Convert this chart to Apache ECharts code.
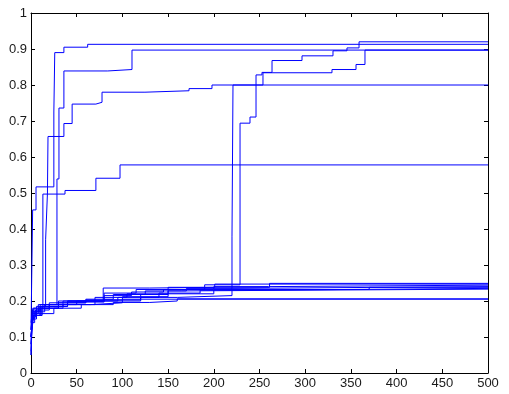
<!DOCTYPE html>
<html>
<head>
<meta charset="utf-8">
<script src="https://cdn.jsdelivr.net/npm/echarts@6/dist/echarts.min.js"></script>
<style>
  html, body { margin: 0; padding: 0; background: #fff; }
  #chart { width: 509px; height: 394px; }
</style>
</head>
<body>
<div id="chart"></div>
<script>
// tick labels
const xTicks = [0, 50, 100, 150, 200, 250, 300, 350, 400, 450, 500];
const yTicks = [0, 0.1, 0.2, 0.3, 0.4, 0.5, 0.6, 0.7, 0.8, 0.9, 1];

// each run: [iteration, best value] - value holds until the next point
const runA = [[0,0.12],[1.8,0.453],[5.5,0.517],[25,0.725],[26,0.89],[36,0.905],[62,0.913],[500,0.913]];
const runB = [[0,0.1],[2,0.17],[8,0.19],[28.4,0.539],[30.6,0.736],[36,0.839],[84,0.843],[110.5,0.897],[500,0.897]];
const runC = [[0,0.08],[2,0.16],[6,0.185],[16,0.37],[18,0.5],[18.6,0.657],[36,0.693],[45,0.747],[71,0.752],[77.7,0.78],[124.7,0.784],[172.9,0.79],[198,0.8],[500,0.8]];
const runG = [[0,0.14],[2,0.18],[13,0.497],[37.2,0.507],[71,0.541],[97.4,0.578],[500,0.578]];
const runD = [[0,0.05],[1,0.12],[3,0.16],[10,0.18],[30,0.19],[70,0.2],[120,0.21],[160,0.215],[219.9,0.378],[221,0.8],[253.8,0.834],[329.3,0.843],[355.6,0.857],[365.4,0.897],[500,0.897]];
const runE = [[0,0.1],[2,0.16],[10,0.185],[35,0.2],[80,0.222],[115,0.232],[150,0.238],[190,0.245],[228.7,0.694],[239.6,0.711],[246.2,0.828],[252.7,0.835],[263.7,0.868],[296.5,0.881],[330.4,0.895],[345.7,0.903],[358.9,0.92],[500,0.92]];
const run1 = [[0,0.05],[1,0.13],[3,0.16],[12,0.18],[35,0.19],[65,0.195],[100,0.205],[500,0.205]];
const run2 = [[0,0.1],[2,0.15],[6,0.165],[25,0.18],[55,0.19],[90,0.196],[130,0.2],[160,0.206],[500,0.206]];
const run3 = [[0,0.12],[2,0.17],[10,0.185],[40,0.197],[80,0.203],[120,0.218],[150,0.228],[165,0.233],[500,0.233]];
const run4 = [[0,0.08],[1,0.155],[5,0.175],[20,0.19],[50,0.2],[95,0.21],[140,0.222],[185,0.23],[240,0.235],[500,0.235]];
const run5 = [[0,0.1],[2,0.165],[8,0.18],[30,0.195],[60,0.203],[100,0.212],[150,0.22],[200,0.232],[370,0.238],[500,0.238]];
const run6 = [[0,0.06],[1,0.14],[4,0.17],[15,0.19],[40,0.2],[80,0.215],[110,0.225],[145,0.232],[200,0.24],[260,0.244],[500,0.244]];
const run7 = [[0,0.12],[2,0.175],[10,0.19],[30,0.2],[79,0.236],[130,0.238],[201,0.247],[500,0.247]];
const run8 = [[0,0.1],[2,0.16],[12,0.185],[40,0.2],[70,0.21],[105,0.22],[150,0.232],[190,0.238],[261,0.249],[500,0.249]];
const run9 = [[0,0.15],[3,0.18],[20,0.195],[60,0.205],[90,0.218],[125,0.228],[170,0.235],[220,0.24],[500,0.24]];

const runs = [run1, run2, run3, run4, run5, run6, run7, run8, run9, runD, runE, runG, runC, runB, runA];

const chart = echarts.init(document.getElementById('chart'));

const font = { fontFamily: 'Liberation Sans', fontSize: 13, color: '#1a1a1a' };
const axisLine = { show: true, onZero: false, lineStyle: { color: '#000', width: 1 } };
const tick = { show: true, inside: true, length: 4, lineStyle: { color: '#000' } };

chart.setOption({
  animation: false,
  grid: { left: 31, right: 21, top: 13, bottom: 21 },
  xAxis: [
    {
      type: 'value', min: 0, max: 500, interval: 50,
      axisLine: axisLine, axisTick: tick, splitLine: { show: false },
      axisLabel: Object.assign({ margin: 4, formatter: v => xTicks.includes(v) ? String(v) : '' }, font)
    },
    {
      type: 'value', position: 'top', min: 0, max: 500, interval: 50,
      axisLine: axisLine, axisTick: tick, splitLine: { show: false },
      axisLabel: { show: false }
    }
  ],
  yAxis: [
    {
      type: 'value', min: 0, max: 1, interval: 0.1,
      axisLine: axisLine, axisTick: tick, splitLine: { show: false },
      axisLabel: Object.assign({ margin: 4, formatter: v => String(yTicks.find(t => Math.abs(t - v) < 1e-6)) }, font)
    },
    {
      type: 'value', position: 'right', min: 0, max: 1, interval: 0.1,
      axisLine: axisLine, axisTick: tick, splitLine: { show: false },
      axisLabel: { show: false }
    }
  ],
  series: runs.map(r => ({
    type: 'line',
    step: 'end',
    data: r,
    symbol: 'none',
    lineStyle: { color: '#0000ff', width: 1 },
    xAxisIndex: 0, yAxisIndex: 0
  }))
});
</script>
</body>
</html>
